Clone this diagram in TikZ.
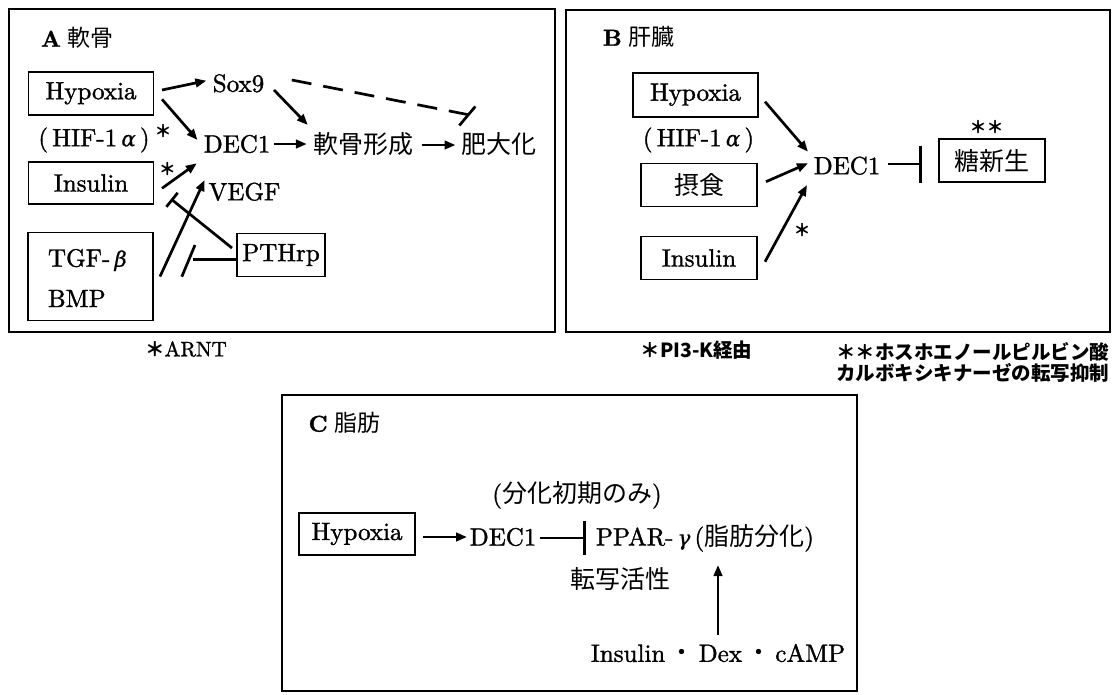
\documentclass[tikz,border=0pt]{standalone}
\usepackage{fontspec}
\setmainfont{lmroman10-regular.otf}[BoldFont=lmroman10-bold.otf, ItalicFont=lmroman10-italic.otf, FakeBold=1.3]
\newfontfamily\jp{Noto Sans CJK JP}
\newfontfamily\grk{DejaVu Serif}[Scale=0.85, FakeBold=0.8]
\usetikzlibrary{arrows.meta}
\newcommand{\fA}{\fontsize{25}{29}\selectfont}
\newcommand{\fT}{\fontsize{23}{27}\selectfont}
\newcommand{\fC}{\fontsize{19.5}{23}\selectfont}
\newcommand{\gal}{{\grk\itshape α}}
\newcommand{\gbe}{{\grk\itshape β}}
\newcommand{\gga}{{\grk\itshape γ}}
\newcommand{\mstar}{{\fontsize{17}{20}\selectfont\jp\bfseries ＊}}
\begin{document}
\begin{tikzpicture}[x=1pt,y=-1pt,
  every node/.style={inner sep=0pt, outer sep=0pt},
  t/.style={font=\fA},
  ttl/.style={font=\fT, anchor=west},
  captxt/.style={font=\fC\jp\bfseries},
  panel/.style={draw, line width=1.9pt},
  box/.style={draw, line width=1.8pt, font=\fA},
  arr/.style={line width=2.7pt, -{Triangle[length=11pt,width=8.5pt]}},
  inh/.style={line width=2.7pt, -{Bar[width=#1]}},
  inh/.default=18pt,
  barl/.style={line width=2.7pt},
  dashl/.style={line width=2.7pt, dash pattern=on 20pt off 12pt}
]
\fill[white] (0,0) rectangle (1116,694);
\useasboundingbox (0,0) rectangle (1116,694);

% ---------------- Panel A ----------------
\node[panel, minimum width=546pt, minimum height=323pt] (pA) at (282,170.5) {};
\node[ttl] (tA) at (41,38) {\textbf{A}\hspace{7pt}{\jp 軟骨}};
\node[box, minimum width=125pt, minimum height=43pt] (hypA) at (91,93.3) {Hypoxia};
\node[t] (hifA) at (94,140) {(\,HIF-1\,\gal\,)};
\node (starA1) at (163,131) {\mstar};
\node[box, minimum width=125pt, minimum height=42pt] (insA) at (91,183) {Insulin};
\node[box, minimum width=125pt, minimum height=88pt] (tgfA) at (90.5,276.5) {};
\node[t, anchor=west] (tgfT) at (48,260) {TGF-\,\gbe};
\node[t, anchor=west] (bmpT) at (48,298.5) {BMP};
\node[t] (sox9) at (238.5,83.3) {Sox9};
\node[t] (dec1A) at (237,144) {DEC1};
\node[t] (vegf) at (244.5,191.7) {VEGF};
\node[t] (nan) at (363,144) {\jp 軟骨形成};
\node[t] (hidai) at (498.5,144) {\jp 肥大化};
\node[box, minimum width=88pt, minimum height=43pt] (pth) at (281,255) {PTHrp};
\node (starA2) at (167.3,169) {\mstar};
\node[font=\fontsize{21}{24}\selectfont] (capA) at (186,349) {{\fC\jp\bfseries ＊}ARNT};

\draw[arr] ([shift={(8.5,-3.3)}]hypA.east) -- ([shift={(-32.1,-2.6)}]sox9.center);
\draw[arr] ([shift={(8.5,6)}]hypA.east) -- ([shift={(-39.5,-4)}]dec1A.center);
\draw[arr] ([shift={(35.5,6.7)}]sox9.center) -- ([shift={(-55.2,-19)}]nan.center);
\coordinate (dEnd) at ([shift={(-28.7,-29)}]hidai.center);
\draw[dashl] ([shift={(53.3,-3.3)}]sox9.center) -- (dEnd);
\draw[barl] ([shift={(-10.5,10.5)}]dEnd) -- ([shift={(5.5,-8.5)}]dEnd);
\draw[arr] ([shift={(37,0)}]dec1A.center) -- ([shift={(-56.2,0)}]nan.center);
\draw[arr] ([shift={(58.7,1)}]nan.center) -- ([shift={(-43,1)}]hidai.center);
\draw[arr] ([shift={(8.5,5.3)}]insA.east) -- ([shift={(-40.2,19.3)}]dec1A.center);
\draw[inh] ([shift={(-5,-7)}]pth.west) -- ([shift={(17.5,16)}]insA.east);
\draw[arr] ([shift={(7,0)}]tgfA.east) -- ([shift={(-39.9,-11.7)}]vegf.center);
\coordinate (hEnd) at ([shift={(-44.5,4.3)}]pth.west);
\draw[barl] ([shift={(0,4.3)}]pth.west) -- (hEnd);
\draw[barl] ([shift={(-10.7,17.4)}]hEnd) -- ([shift={(2.5,-14.3)}]hEnd);

% ---------------- Panel B ----------------
\node[panel, minimum width=544pt, minimum height=322pt] (pB) at (838,171) {};
\node[ttl] (tB) at (603,37) {\textbf{B}\hspace{7pt}{\jp 肝臓}};
\node[box, minimum width=125pt, minimum height=44pt] (hypB) at (695.5,94.7) {Hypoxia};
\node[t] (hifB) at (698.5,140) {(\,HIF-1\,\gal\,)};
\node[box, minimum width=116pt, minimum height=43pt] (ses) at (699,185) {\jp 摂食};
\node[box, minimum width=116pt, minimum height=43pt] (insB) at (699,258) {Insulin};
\node[t] (dec1B) at (847,165.7) {DEC1};
\node[box, minimum width=106pt, minimum height=43pt] (tou) at (992,160.8) {\jp 糖新生};
\node[font=\fontsize{17}{20}\selectfont\jp\bfseries] (ssB) at (986.5,126.7) {＊＊};
\node (starB) at (802,230) {\mstar};

\draw[arr] ([shift={(7,7)}]hypB.east) -- ([shift={(-39,-14)}]dec1B.center);
\draw[arr] ([shift={(9,-3.3)}]ses.east) -- ([shift={(-39,-2.4)}]dec1B.center);
\draw[arr] ([shift={(8,3.7)}]insB.east) -- ([shift={(-40,19.3)}]dec1B.center);
\draw[inh=37pt] ([shift={(41,-1.7)}]dec1B.center) -- ([shift={(-17.5,3.2)}]tou.west);

\node[captxt] (capB1) at (696.5,350) {＊PI3-K経由};
\node[captxt, anchor=west] (capB2) at (836,351.7) {＊＊ホスホエノールピルビン酸};
\node[captxt, anchor=west] (capB3) at (836,373) {カルボキシキナーゼの転写抑制};

% ---------------- Panel C ----------------
\node[panel, minimum width=575pt, minimum height=296pt] (pC) at (569.5,543) {};
\node[ttl] (tC) at (308.6,423) {\textbf{C}\hspace{7pt}{\jp 脂肪}};
\node[t] (bunka) at (577,495) {({\jp 分化初期のみ})};
\node[box, minimum width=116pt, minimum height=42pt] (hypC) at (357,534) {Hypoxia};
\node[t] (dec1C) at (503,537) {DEC1};
\node[t, anchor=west] (ppar) at (596,538) {PPAR-\,\gga\,({\jp 脂肪分化})};
\node[t] (tensha) at (620.5,579) {\jp 転写活性};
\node[t] (insC) at (718,653) {Insulin\,{\jp ・}\,Dex\,{\jp ・}\,cAMP};

\draw[arr] ([shift={(8,3)}]hypC.east) -- ([shift={(-36,0)}]dec1C.center);
\draw[inh=34pt] ([shift={(37,1)}]dec1C.center) -- ([shift={(-10,0)}]ppar.west);
\draw[arr] ([shift={(0,-18)}]insC.center) -- ([shift={(0,-88)}]insC.center);
\end{tikzpicture}
\end{document}
